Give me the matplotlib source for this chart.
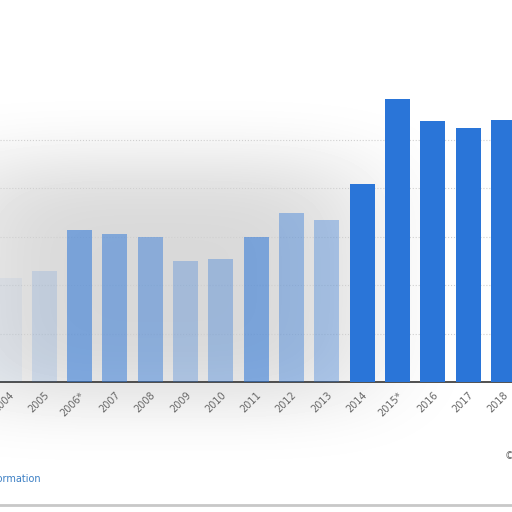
import numpy as np
import matplotlib.pyplot as plt

# Daten
years = ['2004', '2005', '2006*', '2007', '2008', '2009', '2010', '2011',
         '2012', '2013', '2014', '2015*', '2016', '2017', '2018']
values = [2.14, 2.28, 3.13, 3.06, 2.98, 2.49, 2.53, 2.98,
          3.48, 3.34, 4.09, 5.83, 5.38, 5.24, 5.40]
fade = [0.06, 0.15, 0.55, 0.5, 0.45, 0.3, 0.35, 0.55,
        0.4, 0.35, 1, 1, 1, 1, 1]

blue = '#2a75d8'

fig = plt.figure(figsize=(5.12, 5.12), dpi=100)

# grauer Schleier im Hintergrund
bg = fig.add_axes([0, 0, 1, 1], zorder=0)
yy, xx = np.mgrid[0:512, 0:512]
haze = np.exp(-(((xx - 160) / 220.0) ** 4 + ((yy - 280) / 130.0) ** 4))
img = 1 - 0.15 * haze
bg.imshow(img, cmap='gray', vmin=0, vmax=1, extent=[0, 512, 512, 0])
bg.set_xlim(0, 512)
bg.set_ylim(512, 0)
bg.axis('off')
bg.axhline(505, color='#c8c8c8', lw=2)
bg.text(41, 479, 'Additional Information', color='#3b7fc4', fontsize=7,
        ha='right', va='center')
bg.text(505, 456, '© Statista 2019', color='#666666', fontsize=7,
        ha='left', va='center')

ax = fig.add_axes([0, 1 - 382 / 512, 1, 0.62], zorder=1)
ax.patch.set_alpha(0)
x = np.arange(len(years))
for i in range(len(years)):
    ax.bar(x[i], values[i], width=0.71, color=blue, alpha=fade[i], zorder=3)

ax.set_xlim(-0.255, 14.245)
ax.set_ylim(0, 0.62 * 512 / 48.5)
ax.set_yticks([1, 2, 3, 4, 5])
ax.yaxis.grid(True, color='#d0d0d0', linestyle=':', lw=0.8, zorder=0)
ax.tick_params(axis='y', left=False, labelleft=False)
ax.tick_params(axis='x', length=0, pad=6)
ax.set_xticks(x)
ax.set_xticklabels(years, rotation=45, ha='right', rotation_mode='anchor',
                   fontsize=7, color='#666666')
for s in ['top', 'right', 'left']:
    ax.spines[s].set_visible(False)
ax.spines['bottom'].set_color('#333333')
ax.spines['bottom'].set_linewidth(1.2)

fig.savefig('out.png', dpi=100)
